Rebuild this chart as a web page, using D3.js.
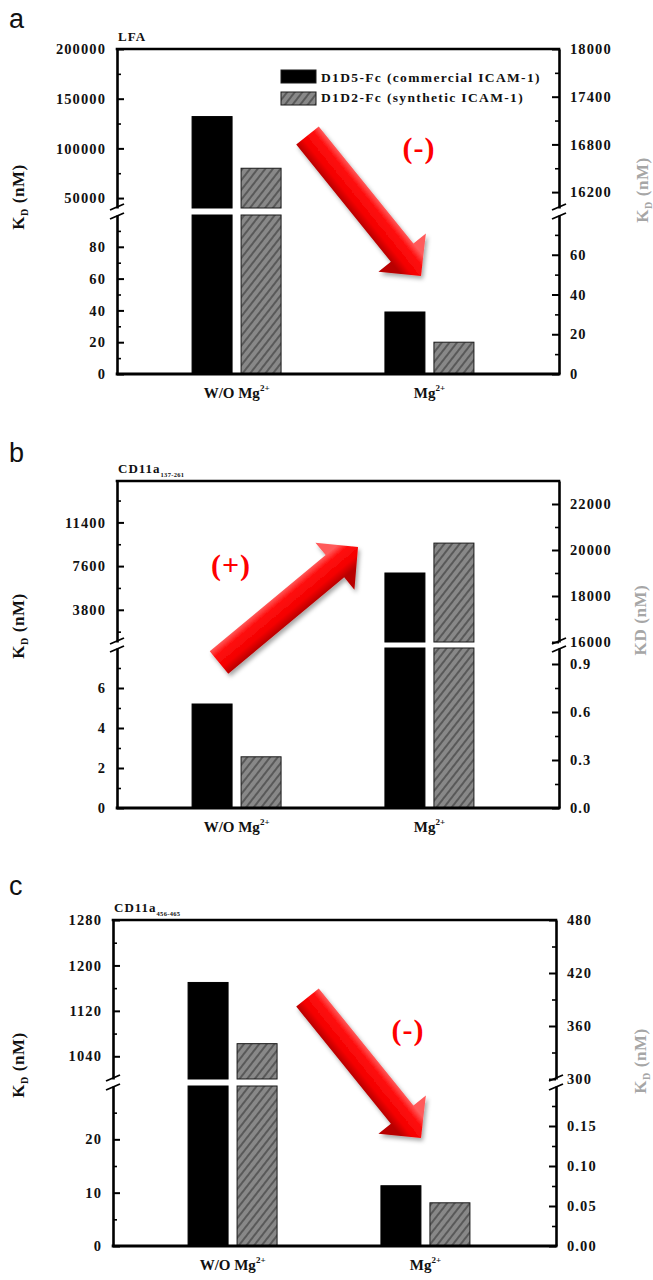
<!DOCTYPE html>
<html><head><meta charset="utf-8">
<script src="https://cdn.jsdelivr.net/npm/d3@7"></script>
<style>body{margin:0;background:#fff} svg{display:block}</style>
</head><body><svg id="chart" width="653" height="1280"></svg>
<script>
// ---------------- DATA ----------------
const categories = ["W/O Mg2+", "Mg2+"];
const seriesNames = ["D1D5-Fc (commercial ICAM-1)", "D1D2-Fc (synthetic ICAM-1)"];

// panel a : LFA
const lfaCommercial = [132000, 39];     // left axis
const lfaSynthetic  = [16500, 16];      // right axis
// panel b : CD11a 137-261
const cd11aACommercial = [5.2, 7000];
const cd11aASynthetic  = [0.32, 20300];
// panel c : CD11a 456-465
const cd11aBCommercial = [1170, 11.3];
const cd11aBSynthetic  = [340, 0.054];

// axis domains (lower segment / upper segment of broken axes)
const lfaLeftLower = [0, 100],  lfaLeftUpper = [40000, 200000];
const lfaRightLower = [0, 80],  lfaRightUpper = [16000, 18000];
const bLeftLower = [0, 8],      bLeftUpper = [1000, 15000];
const bRightLower = [0, 1.0],   bRightUpper = [16000, 23000];
const cLeftLower = [0, 30],     cLeftUpper = [1000, 1280];
const cRightLower = [0, 0.2],   cRightUpper = [300, 480];

// tick labels
const lfaLeftLowerTicks = [0, 20, 40, 60, 80],  lfaLeftLowerMinor = [10, 30, 50, 70, 90];
const lfaLeftUpperTicks = [50000, 100000, 150000, 200000], lfaLeftUpperMinor = [75000, 125000, 175000];
const lfaRightLowerTicks = [0, 20, 40, 60], lfaRightLowerMinor = [10, 30, 50, 70];
const lfaRightUpperTicks = [16200, 16800, 17400, 18000], lfaRightUpperMinor = [16500, 17100, 17700];
const bLeftLowerTicks = [0, 2, 4, 6], bLeftLowerMinor = [1, 3, 5, 7];
const bLeftUpperTicks = [3800, 7600, 11400], bLeftUpperMinor = [1900, 5700, 9500, 13300];
const bRightLowerTicks = [0, 0.3, 0.6, 0.9], bRightLowerMinor = [0.15, 0.45, 0.75];
const bRightUpperTicks = [16000, 18000, 20000, 22000], bRightUpperMinor = [17000, 19000, 21000];
const cLeftLowerTicks = [0, 10, 20], cLeftLowerMinor = [5, 15, 25];
const cLeftUpperTicks = [1040, 1120, 1200, 1280], cLeftUpperMinor = [1080, 1160, 1240];
const cRightLowerTicks = [0, 0.05, 0.10, 0.15], cRightLowerMinor = [0.025, 0.075, 0.125, 0.175];
const cRightUpperTicks = [300, 360, 420, 480], cRightUpperMinor = [330, 390, 450];

// ---------------- DRAW ----------------
const svg = d3.select("#chart");
const SERIF = "'Liberation Serif','Times New Roman',serif";
const SANS = "'Liberation Sans',Arial,sans-serif";

const defs = svg.append("defs");
const pat = defs.append("pattern").attr("id", "hatch").attr("width", 6).attr("height", 6)
  .attr("patternUnits", "userSpaceOnUse").attr("patternTransform", "rotate(38)");
pat.append("rect").attr("width", 6).attr("height", 6).attr("fill", "#888");
pat.append("line").attr("x1", 1).attr("x2", 1).attr("y1", 0).attr("y2", 6)
  .attr("stroke", "#2a2a2a").attr("stroke-width", 1);
const flt = defs.append("filter").attr("id", "shadow").attr("x", "-20%").attr("y", "-20%").attr("width", "150%").attr("height", "150%");
flt.append("feDropShadow").attr("dx", 2).attr("dy", 3).attr("stdDeviation", 2)
  .attr("flood-color", "#000").attr("flood-opacity", 0.35);

function drawArrow(g, id, tail, tip, shaftW, headW, headL) {
  const dx = tip[0] - tail[0], dy = tip[1] - tail[1];
  const len = Math.hypot(dx, dy);
  const u = [dx / len, dy / len], n = [u[1], -u[0]];
  const base = [tip[0] - u[0] * headL, tip[1] - u[1] * headL];
  const p = (pt, s) => [pt[0] + n[0] * s, pt[1] + n[1] * s];
  const pts = [p(tail, shaftW / 2), p(base, shaftW / 2), p(base, headW / 2), tip,
               p(base, -headW / 2), p(base, -shaftW / 2), p(tail, -shaftW / 2)];
  const mid = [(tail[0] + base[0]) / 2, (tail[1] + base[1]) / 2];
  const a = p(mid, shaftW / 2), b = p(mid, -shaftW / 2);
  const gr = defs.append("linearGradient").attr("id", id).attr("gradientUnits", "userSpaceOnUse")
    .attr("x1", a[0]).attr("y1", a[1]).attr("x2", b[0]).attr("y2", b[1]);
  gr.append("stop").attr("offset", 0).attr("stop-color", "#ff5a5a");
  gr.append("stop").attr("offset", 0.25).attr("stop-color", "#ff1010");
  gr.append("stop").attr("offset", 0.7).attr("stop-color", "#f40000");
  gr.append("stop").attr("offset", 1).attr("stop-color", "#b80000");
  g.append("path").attr("d", "M" + pts.map(q => q.join(",")).join("L") + "Z")
    .attr("fill", `url(#${id})`).attr("filter", "url(#shadow)");
}

function styleTicks(sel, major) {
  sel.selectAll(".tick line").attr("stroke", "#000").attr("stroke-width", major ? 2 : 1.6);
  sel.selectAll(".tick text").attr("font-family", SERIF).attr("font-weight", "bold")
    .attr("font-size", 14.5).attr("letter-spacing", "1.1px").attr("fill", "#111");
}

function drawPanel(cfg) {
  const g = svg.append("g");
  const { L, R, T, B, ub, lt } = cfg;
  const yLL = d3.scaleLinear().domain(cfg.leftLower).range([B, lt]);
  const yLU = d3.scaleLinear().domain(cfg.leftUpper).range([ub, T]);
  const yRL = d3.scaleLinear().domain(cfg.rightLower).range([B, lt]);
  const yRU = d3.scaleLinear().domain(cfg.rightUpper).range([ub, T]);
  const x = d3.scalePoint().domain(categories).range([L, L + 432]).padding(0.62);
  const xs = d3.scaleBand().domain([0, 1]).range([-44.5, 44.5]).paddingInner(0.1837);

  // bars
  const seriesVals = [cfg.commercial, cfg.synthetic];
  seriesVals.forEach((vals, s) => {
    const lower = s === 0 ? yLL : yRL, upper = s === 0 ? yLU : yRU;
    vals.forEach((v, i) => {
      const bx = x(categories[i]) + xs(s), bw = xs.bandwidth();
      const fill = s === 0 ? "#000" : "url(#hatch)";
      const stroke = s === 0 ? "#000" : "#1a1a1a";
      const lowMax = lower.domain()[1];
      const segs = v <= lowMax ? [[lower(v), B]] : [[lt, B], [upper(v), ub]];
      segs.forEach(([y0, y1]) => {
        g.append("rect").attr("x", bx).attr("y", y0).attr("width", bw).attr("height", y1 - y0)
          .attr("fill", fill).attr("stroke", stroke).attr("stroke-width", 1);
      });
    });
  });

  // axes
  const mk = (axisFn, scale, ticks, minor, fmt, side) => {
    const tx = side === "L" ? L : R;
    const ga = g.append("g").attr("transform", `translate(${tx},0)`)
      .call(axisFn(scale).tickValues(ticks).tickSizeInner(-7).tickSizeOuter(0).tickPadding(11).tickFormat(fmt));
    ga.select(".domain").attr("stroke", "#000").attr("stroke-width", 2.6);
    styleTicks(ga, true);
    const gm = g.append("g").attr("transform", `translate(${tx},0)`)
      .call(axisFn(scale).tickValues(minor).tickSizeInner(-4).tickSizeOuter(0).tickFormat(""));
    gm.select(".domain").remove();
    styleTicks(gm, false);
  };
  mk(d3.axisLeft, yLL, cfg.llT, cfg.llM, cfg.fmtL, "L");
  mk(d3.axisLeft, yLU, cfg.luT, cfg.luM, cfg.fmtL, "L");
  mk(d3.axisRight, yRL, cfg.rlT, cfg.rlM, cfg.fmtRL, "R");
  mk(d3.axisRight, yRU, cfg.ruT, cfg.ruM, cfg.fmtRU, "R");

  // frame top and bottom
  g.append("line").attr("x1", L - 1.3).attr("x2", R + 1.3).attr("y1", T).attr("y2", T)
    .attr("stroke", "#000").attr("stroke-width", 2.6);
  g.append("line").attr("x1", L - 1.3).attr("x2", R + 1.3).attr("y1", B).attr("y2", B)
    .attr("stroke", "#000").attr("stroke-width", 2.8);

  // break marks
  [L, R].forEach(ax => {
    [ub - 1, lt + 1].forEach(yy => {
      g.append("line").attr("x1", ax - 7).attr("y1", yy + 3).attr("x2", ax + 7).attr("y2", yy - 3)
        .attr("stroke", "#000").attr("stroke-width", 1.8);
    });
  });

  // category labels
  categories.forEach(c => {
    const t = g.append("text").attr("x", x(c)).attr("y", B + 24).attr("text-anchor", "middle")
      .attr("font-family", SERIF).attr("font-weight", "bold").attr("font-size", 15).attr("fill", "#111");
    const m = c.match(/^(.*?)(\d\+)$/);
    t.append("tspan").text(m[1]);
    t.append("tspan").attr("font-size", 9).attr("dy", -7).text(m[2]);
  });

  // axis titles
  const lt_ = g.append("text").attr("transform", `translate(${cfg.ltX},${cfg.ltY}) rotate(-90)`)
    .attr("text-anchor", "middle").attr("font-family", SERIF).attr("font-weight", "bold")
    .attr("font-size", 17).attr("letter-spacing", "0.6px").attr("fill", "#111");
  lt_.append("tspan").text("K");
  lt_.append("tspan").attr("font-size", 10).attr("dy", 4).text("D");
  lt_.append("tspan").attr("dy", -4).text(" (nM)");
  const rt_ = g.append("text").attr("transform", `translate(${cfg.rtX},${cfg.rtY}) rotate(-90)`)
    .attr("text-anchor", "middle").attr("font-family", SERIF).attr("font-weight", "bold")
    .attr("font-size", 17).attr("letter-spacing", "0.6px").attr("fill", "#a6a6a6");
  if (cfg.rightSub) {
    rt_.append("tspan").text("K");
    rt_.append("tspan").attr("font-size", 10).attr("dy", 4).text("D");
    rt_.append("tspan").attr("dy", -4).text(" (nM)");
  } else {
    rt_.append("tspan").text("KD (nM)");
  }

  // panel title
  const pt = g.append("text").attr("x", L + 1).attr("y", T - 8).attr("font-family", SERIF)
    .attr("font-weight", "bold").attr("font-size", 13).attr("letter-spacing", "1px").attr("fill", "#111");
  pt.append("tspan").text(cfg.title);
  if (cfg.titleSub) pt.append("tspan").attr("font-size", 6.5).attr("dy", 4).attr("letter-spacing", "0.3px").text(cfg.titleSub);

  // panel letter
  g.append("text").attr("x", 9).attr("y", cfg.letterY).attr("font-family", SANS)
    .attr("font-size", 27).attr("fill", "#111").text(cfg.letter);

  // arrow + sign
  drawArrow(g, "grad" + cfg.letter, cfg.arrowTail, cfg.arrowTip, 29, 61, 30);
  g.append("text").attr("x", cfg.signX).attr("y", cfg.signY).attr("text-anchor", "middle")
    .attr("font-family", SERIF).attr("font-weight", "bold").attr("font-size", 30)
    .attr("letter-spacing", "1px").attr("fill", "#ff0000").text(cfg.sign);

  return g;
}

const fInt = d3.format("d");
const ga = drawPanel({
  L: 117, R: 559, T: 49, B: 374, ub: 208, lt: 215,
  leftLower: lfaLeftLower, leftUpper: lfaLeftUpper, rightLower: lfaRightLower, rightUpper: lfaRightUpper,
  commercial: lfaCommercial, synthetic: lfaSynthetic,
  llT: lfaLeftLowerTicks, llM: lfaLeftLowerMinor, luT: lfaLeftUpperTicks, luM: lfaLeftUpperMinor,
  rlT: lfaRightLowerTicks, rlM: lfaRightLowerMinor, ruT: lfaRightUpperTicks, ruM: lfaRightUpperMinor,
  fmtL: fInt, fmtRL: fInt, fmtRU: fInt,
  ltX: 24, ltY: 197, rtX: 648, rtY: 190, rightSub: true,
  title: "LFA", titleSub: null, letter: "a", letterY: 28,
  arrowTail: [307.5, 135.5], arrowTip: [421, 276], sign: "(-)", signX: 419, signY: 158
});
const gb = drawPanel({
  L: 117, R: 559, T: 481, B: 808, ub: 642, lt: 648,
  leftLower: bLeftLower, leftUpper: bLeftUpper, rightLower: bRightLower, rightUpper: bRightUpper,
  commercial: cd11aACommercial, synthetic: cd11aASynthetic,
  llT: bLeftLowerTicks, llM: bLeftLowerMinor, luT: bLeftUpperTicks, luM: bLeftUpperMinor,
  rlT: bRightLowerTicks, rlM: bRightLowerMinor, ruT: bRightUpperTicks, ruM: bRightUpperMinor,
  fmtL: fInt, fmtRL: d3.format(".1f"), fmtRU: fInt,
  ltX: 24, ltY: 626, rtX: 646, rtY: 620, rightSub: false,
  title: "CD11a", titleSub: "137-261", letter: "b", letterY: 462,
  arrowTail: [219, 662.5], arrowTip: [358, 547], sign: "(+)", signX: 231, signY: 575
});
const gc = drawPanel({
  L: 113, R: 556, T: 920, B: 1246, ub: 1079, lt: 1086,
  leftLower: cLeftLower, leftUpper: cLeftUpper, rightLower: cRightLower, rightUpper: cRightUpper,
  commercial: cd11aBCommercial, synthetic: cd11aBSynthetic,
  llT: cLeftLowerTicks, llM: cLeftLowerMinor, luT: cLeftUpperTicks, luM: cLeftUpperMinor,
  rlT: cRightLowerTicks, rlM: cRightLowerMinor, ruT: cRightUpperTicks, ruM: cRightUpperMinor,
  fmtL: fInt, fmtRL: d3.format(".2f"), fmtRU: fInt,
  ltX: 24, ltY: 1065, rtX: 646, rtY: 1061, rightSub: true,
  title: "CD11a", titleSub: "456-465", letter: "c", letterY: 895,
  arrowTail: [307.5, 997.5], arrowTip: [421, 1138], sign: "(-)", signX: 408, signY: 1040
});

// legend (panel a)
const lg = ga.append("g");
seriesNames.forEach((s, i) => {
  lg.append("rect").attr("x", 281).attr("y", 70 + i * 22).attr("width", 35).attr("height", 13)
    .attr("fill", i === 0 ? "#000" : "url(#hatch)").attr("stroke", "#1a1a1a").attr("stroke-width", 1);
  lg.append("text").attr("x", 321).attr("y", 82 + i * 19.5).attr("font-family", SERIF)
    .attr("font-weight", "bold").attr("font-size", 13.5).attr("letter-spacing", "1.35px")
    .attr("fill", "#111").text(s);
});
</script></body></html>
